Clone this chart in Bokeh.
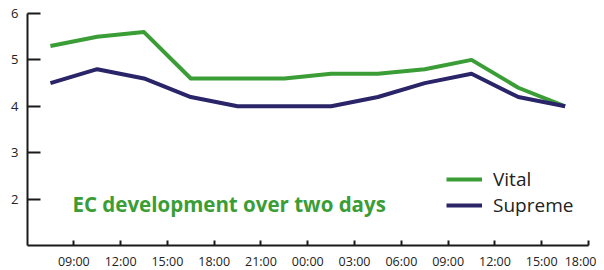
from bokeh.plotting import figure
from bokeh.models import Range1d, FixedTicker, Legend, LegendItem, Label
from bokeh.core.properties import value
from bokeh.embed import file_html
from bokeh.resources import INLINE

# ---- data ----
tick_labels = ["09:00", "12:00", "15:00", "18:00", "21:00", "00:00",
               "03:00", "06:00", "09:00", "12:00", "15:00", "18:00"]
vital = [5.3, 5.5, 5.6, 4.6, 4.6, 4.6, 4.7, 4.7, 4.8, 5.0, 4.4, 4.0]
supreme = [4.5, 4.8, 4.6, 4.2, 4.0, 4.0, 4.0, 4.2, 4.5, 4.7, 4.2, 4.0]
y_ticks = [2, 3, 4, 5, 6]
title_text = "EC development over two days"

GREEN = "#3a9d36"
NAVY = "#2a2468"
AXIS = "#1a1a1a"
FONT = "Open Sans"

xs = list(range(len(vital)))

p = figure(frame_width=561, frame_height=232, output_backend="svg",
           toolbar_location=None,
           x_range=Range1d(-0.49, len(tick_labels) - 0.5),
           y_range=Range1d(1, 6),
           min_border_left=27, min_border_top=13, min_border_right=8,
           min_border_bottom=0)
p.outline_line_color = None
p.xgrid.visible = False
p.ygrid.visible = False
p.background_fill_color = "white"
p.border_fill_color = "white"

r_v = p.line(xs, vital, line_color=GREEN, line_width=4, line_join="round")
r_s = p.line(xs, supreme, line_color=NAVY, line_width=4, line_join="round")

# x axis
xa = p.xaxis[0]
xa.ticker = FixedTicker(ticks=[i + 0.5 for i in range(len(tick_labels))])
xa.major_label_overrides = {i + 0.5: lab for i, lab in enumerate(tick_labels)}
xa.minor_tick_line_color = None
xa.major_tick_in = 5
xa.major_tick_out = 0
xa.major_tick_line_width = 2
xa.major_tick_line_color = AXIS
xa.axis_line_width = 2
xa.axis_line_color = AXIS
xa.major_label_standoff = 7
xa.major_label_text_font = FONT
xa.major_label_text_font_size = "12.5px"
xa.major_label_text_color = "#222222"

# y axis
ya = p.yaxis[0]
ya.ticker = FixedTicker(ticks=y_ticks)
ya.minor_tick_line_color = None
ya.major_tick_in = 13
ya.major_tick_out = 0
ya.major_tick_line_width = 2
ya.major_tick_line_color = AXIS
ya.axis_line_width = 2
ya.axis_line_color = AXIS
ya.major_label_standoff = 9
ya.major_label_text_font = FONT
ya.major_label_text_font_size = "13px"
ya.major_label_text_color = "#222222"

# legend
legend = Legend(items=[LegendItem(label="Vital", renderers=[r_v]),
                       LegendItem(label="Supreme", renderers=[r_s])],
                location=(419, 27), padding=0, margin=0,
                border_line_color=None, background_fill_alpha=0,
                glyph_width=36, glyph_height=20, label_height=20,
                label_standoff=11, spacing=0,
                label_text_font=FONT, label_text_font_size="19px",
                label_text_color="#222222")
p.add_layout(legend, "center")

# in-chart title
p.add_layout(Label(x=45, y=42, x_units="screen", y_units="screen",
                   text=title_text, text_font=FONT, text_font_style="bold",
                   text_font_size="20.5px", text_color=GREEN,
                   text_baseline="alphabetic"))

open("out.html", "w").write(file_html(p, INLINE))
